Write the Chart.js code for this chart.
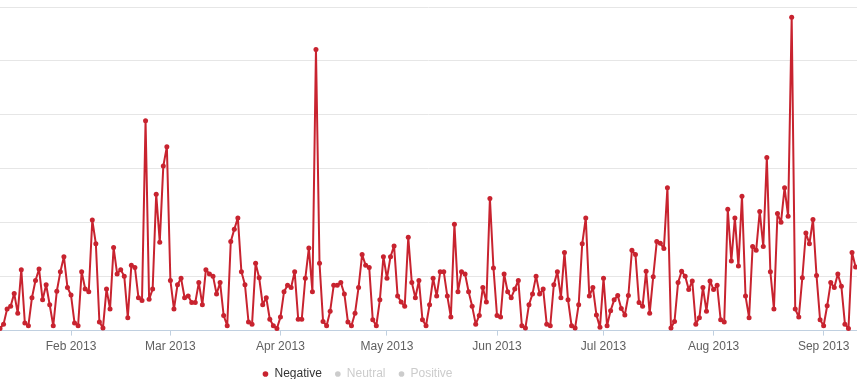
<!DOCTYPE html>
<html>
<head>
<meta charset="utf-8">
<script src="https://cdn.jsdelivr.net/npm/chart.js@4.4.1/dist/chart.umd.min.js"></script>
<style>
  html, body { margin: 0; padding: 0; background: #fff; }
  #wrap { width: 857px; height: 379px; position: relative; }
</style>
</head>
<body>
<div id="wrap"><canvas id="chart"></canvas></div>
<script>
// daily counts, one per day starting 12 Jan 2013
const negative = [
  0.4, 1.2, 4.0, 4.5, 6.9, 3.2, 11.3, 1.4, 0.9, 6.1,
  9.3, 11.4, 5.7, 8.5, 4.8, 0.9, 7.3, 10.9, 13.7, 8.0,
  6.6, 1.4, 0.9, 10.9, 7.7, 7.2, 20.5, 16.1, 1.6, 0.5,
  7.7, 4.0, 15.4, 10.5, 11.3, 10.1, 2.4, 12.1, 11.7, 6.1,
  5.6, 38.9, 5.8, 7.7, 25.3, 16.4, 30.5, 34.1, 9.3, 4.0,
  8.5, 9.7, 6.1, 6.4, 5.2, 5.2, 8.9, 4.8, 11.3, 10.5,
  10.1, 6.8, 8.9, 2.8, 0.9, 16.5, 18.8, 20.9, 10.9, 8.5,
  1.6, 1.2, 12.5, 9.8, 4.8, 6.1, 2.1, 0.9, 0.4, 2.5,
  7.2, 8.4, 8.0, 10.9, 2.1, 2.1, 9.7, 15.3, 7.2, 52.1,
  12.5, 1.7, 0.9, 3.6, 8.4, 8.4, 8.9, 6.8, 1.6, 0.9,
  3.2, 8.0, 14.1, 12.1, 11.7, 2.0, 0.9, 5.7, 13.7, 9.7,
  13.7, 15.7, 6.4, 5.3, 4.5, 17.3, 8.9, 6.1, 9.3, 2.0,
  0.9, 4.8, 9.7, 6.4, 10.9, 10.9, 6.4, 2.5, 19.7, 7.2,
  10.9, 10.5, 7.2, 4.5, 1.2, 2.8, 8.0, 5.3, 24.5, 11.6,
  2.8, 2.5, 10.5, 7.2, 6.1, 7.7, 9.3, 0.9, 0.5, 4.8,
  6.8, 10.1, 6.8, 7.7, 1.2, 0.9, 8.5, 10.9, 6.1, 14.5,
  5.7, 0.9, 0.5, 4.8, 16.1, 20.9, 6.4, 8.0, 2.9, 0.6,
  9.7, 0.9, 3.7, 5.7, 6.5, 4.1, 2.9, 6.5, 14.9, 14.1,
  5.2, 4.5, 11.0, 3.2, 10.0, 16.5, 16.2, 15.2, 26.5, 0.5,
  1.7, 8.9, 11.0, 10.1, 7.6, 9.2, 1.2, 2.4, 8.0, 3.6,
  9.2, 7.6, 8.4, 2.0, 1.6, 22.5, 12.9, 20.9, 12.0, 24.9,
  6.4, 2.4, 15.6, 14.9, 22.1, 15.6, 32.1, 10.9, 4.0, 21.7,
  20.1, 26.5, 21.2, 58.1, 4.0, 2.5, 9.8, 18.1, 16.1, 20.6,
  10.2, 2.0, 0.9, 4.6, 8.9, 8.0, 10.5, 8.2, 1.2, 0.4,
  14.5, 11.8
];
const neutral = [];
const positive = [];

// day offsets (from 12 Jan) of the first of each month, and their labels
const monthStarts = [20, 48, 79, 109, 140, 170, 201, 232];
const monthLabels = ["Feb 2013", "Mar 2013", "Apr 2013", "May 2013", "Jun 2013", "Jul 2013", "Aug 2013", "Sep 2013"];

const red = "#c8232f";
const off = "#cccccc";

Chart.defaults.font.family = '"Liberation Sans", Arial, sans-serif';
Chart.defaults.font.size = 12;

// move the legend to where the original puts it
const legendShift = {
  id: "legendShift",
  afterLayout(chart) {
    const lg = chart.legend;
    lg.left -= 71; lg.right -= 71;
    lg.top -= 3; lg.bottom -= 3;
  }
};

new Chart(document.getElementById("chart"), {
  type: "line",
  data: {
    datasets: [
      {
        label: "Negative",
        data: negative.map((v, i) => ({ x: i, y: v })),
        borderColor: red,
        backgroundColor: red,
        borderWidth: 2,
        borderJoinStyle: "round",
        pointRadius: 2.5,
        pointBorderWidth: 0,
        pointBackgroundColor: red,
        tension: 0,
        clip: false
      },
      { label: "Neutral", data: neutral, hidden: true, borderColor: "#90ed7d" },
      { label: "Positive", data: positive, hidden: true, borderColor: "#7cb5ec" }
    ]
  },
  options: {
    responsive: true,
    maintainAspectRatio: false,
    animation: false,
    layout: { autoPadding: false, padding: { top: 7, bottom: -14, left: 0, right: 0 } },
    plugins: {
      tooltip: { enabled: false },
      legend: {
        position: "bottom",
        align: "center",
        labels: {
          usePointStyle: true,
          boxWidth: 6,
          boxHeight: 4,
          padding: 13,
          font: { size: 12 },
          generateLabels(chart) {
            return chart.data.datasets.map((ds, i) => {
              const on = chart.isDatasetVisible(i);
              return {
                text: ds.label,
                fillStyle: on ? red : off,
                strokeStyle: on ? red : off,
                lineWidth: 0,
                fontColor: on ? "#333333" : off,
                pointStyle: "circle",
                hidden: false,
                datasetIndex: i
              };
            });
          }
        }
      }
    },
    scales: {
      x: {
        type: "linear",
        min: 0,
        max: 241.4,
        afterBuildTicks(scale) {
          scale.ticks = monthStarts.map(v => ({ value: v }));
        },
        ticks: {
          autoSkip: false,
          maxRotation: 0,
          padding: 4,
          color: "#606060",
          font: { size: 12 },
          callback: (val, i) => monthLabels[i]
        },
        grid: {
          drawOnChartArea: false,
          drawTicks: true,
          tickLength: 5,
          color: "#c0d0e0"
        },
        border: { color: "#c0d0e0", width: 1 }
      },
      y: {
        min: 0,
        max: 60,
        ticks: { display: false, stepSize: 10 },
        grid: {
          drawTicks: false,
          color: c => (c.tick && c.tick.value === 0 ? "rgba(0,0,0,0)" : "#e6e6e6")
        },
        border: { display: false }
      }
    }
  },
  plugins: [legendShift]
});
</script>
</body>
</html>
